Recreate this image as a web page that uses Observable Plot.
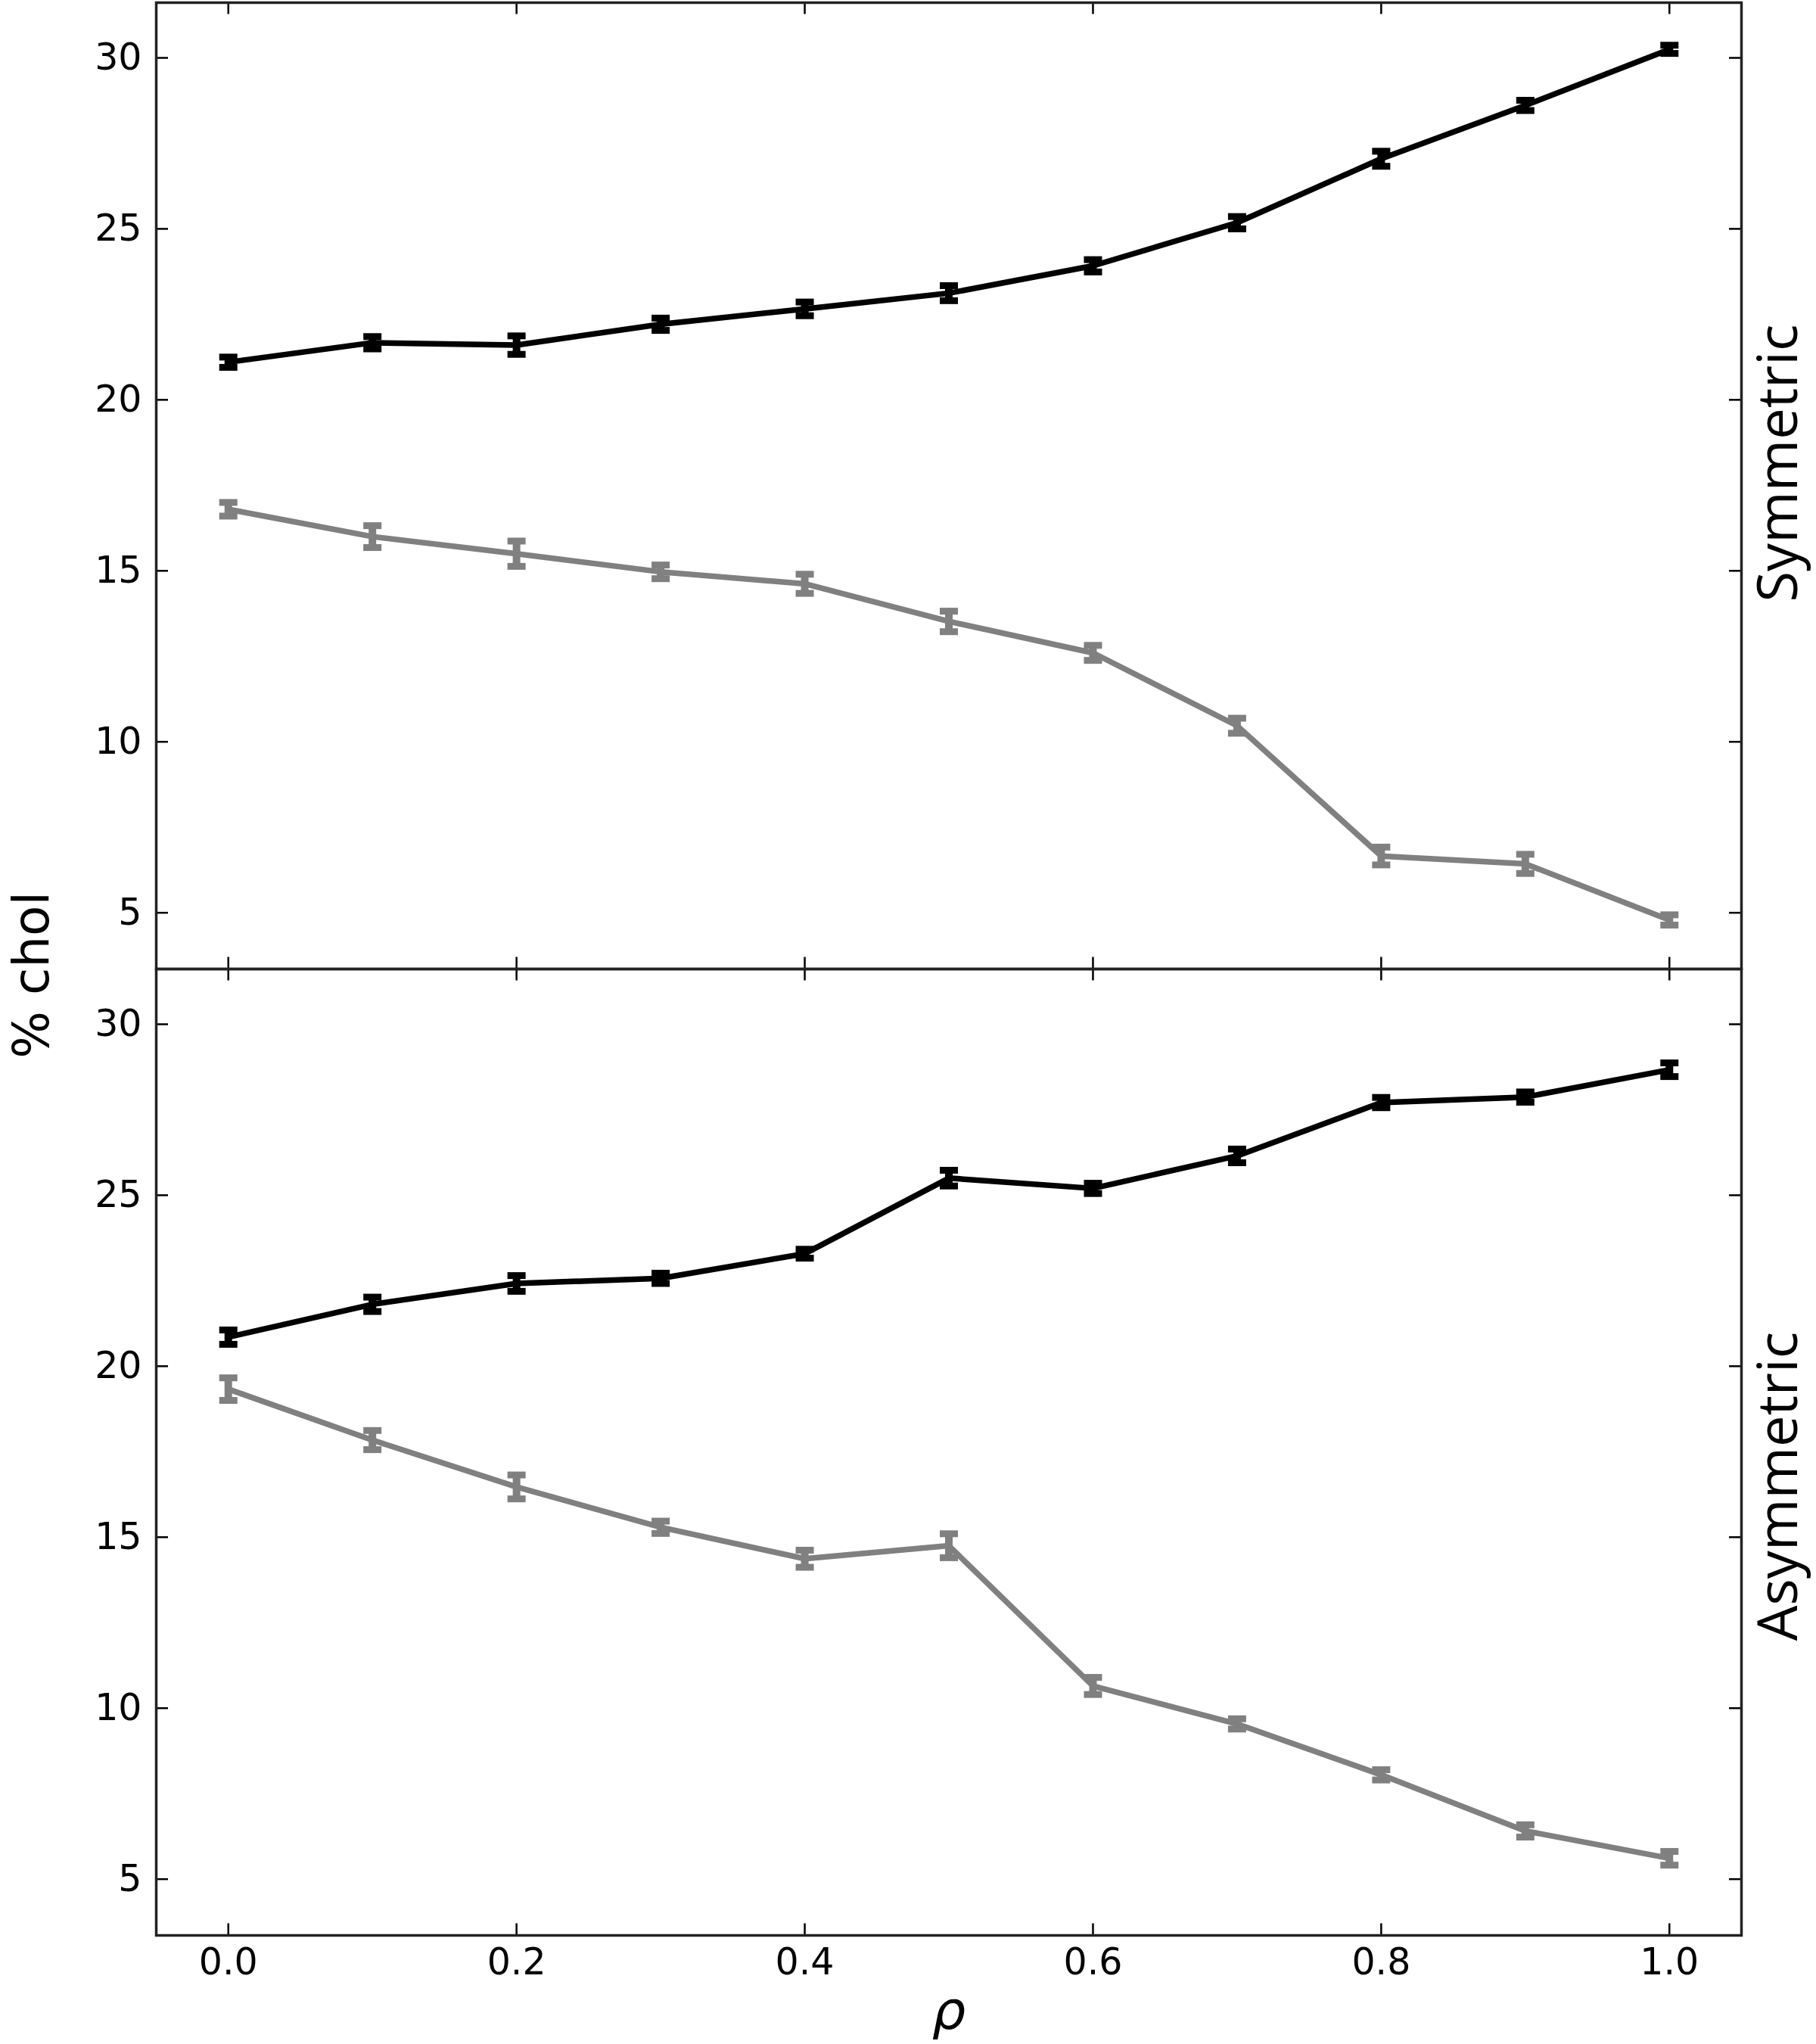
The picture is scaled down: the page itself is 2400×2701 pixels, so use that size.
<!DOCTYPE html>
<html>
<head>
<meta charset="utf-8">
<script src="https://cdn.jsdelivr.net/npm/d3@7"></script>
<script src="https://cdn.jsdelivr.net/npm/@observablehq/plot@0.6"></script>
<style>
  html, body { margin: 0; padding: 0; background: #fff; }
  #chart svg { display: block; }
</style>
</head>
<body>
<div id="chart"></div>
<script>
// ---- data ----
const rho = [0.0, 0.1, 0.2, 0.3, 0.4, 0.5, 0.6, 0.7, 0.8, 0.9, 1.0];

const symBlack      = [21.10, 21.67, 21.60, 22.21, 22.66, 23.12, 23.92, 25.18, 27.05, 28.61, 30.25];
const symBlackErr   = [0.15, 0.18, 0.27, 0.18, 0.20, 0.22, 0.18, 0.18, 0.22, 0.15, 0.12];
const symGray       = [16.80, 16.00, 15.50, 14.97, 14.62, 13.52, 12.60, 10.47, 6.66, 6.43, 4.79];
const symGrayErr    = [0.20, 0.32, 0.37, 0.20, 0.28, 0.30, 0.22, 0.22, 0.26, 0.28, 0.15];

const asymBlack     = [20.85, 21.81, 22.42, 22.57, 23.29, 25.50, 25.20, 26.15, 27.71, 27.87, 28.67];
const asymBlackErr  = [0.21, 0.21, 0.23, 0.15, 0.13, 0.23, 0.15, 0.20, 0.15, 0.15, 0.20];
const asymGray      = [19.33, 17.84, 16.47, 15.29, 14.37, 14.75, 10.65, 9.54, 8.05, 6.41, 5.61];
const asymGrayErr   = [0.33, 0.28, 0.35, 0.18, 0.25, 0.35, 0.25, 0.15, 0.15, 0.18, 0.20];

const panels = ["Symmetric", "Asymmetric"];
const seriesNames = ["Series 1", "Series 2"];
const yTicks = [5, 10, 15, 20, 25, 30];
const xTicks = [0.0, 0.2, 0.4, 0.6, 0.8, 1.0];
const xTickLabels = ["0.0", "0.2", "0.4", "0.6", "0.8", "1.0"];
const yLabel = "% chol";
const xLabel = "ρ";

// ---- table built from the arrays ----
const table = [];
function addSeries(panel, series, vals, errs) {
  rho.forEach((r, i) => table.push({panel, series, rho: r, v: vals[i], lo: vals[i] - errs[i], hi: vals[i] + errs[i]}));
}
addSeries(panels[0], seriesNames[1], symGray, symGrayErr);
addSeries(panels[0], seriesNames[0], symBlack, symBlackErr);
addSeries(panels[1], seriesNames[1], asymGray, asymGrayErr);
addSeries(panels[1], seriesNames[0], asymBlack, asymBlackErr);

// ---- layout ----
const W = 2400, H = 2701;
const mL = 206, mR = 99, mT = 2, mB = 144;
const plotW = W - mL - mR;
const panelH = (H - mT - mB) / 2;
const tickLen = 16;

const cap = { draw(ctx) { ctx.rect(-12, -4.5, 24, 9); } };

const chart = Plot.plot({
  width: W,
  height: H,
  marginLeft: mL,
  marginRight: mR,
  marginTop: mT,
  marginBottom: mB,
  style: { fontFamily: "DejaVu Sans", background: "#fff", color: "#000" },
  x: { domain: [-0.05, 1.05] },
  y: { domain: [3.355, 31.615] },
  fy: { domain: panels, padding: 0, axis: null },
  color: { domain: seriesNames, range: ["#000000", "#808080"], legend: false },
  marks: [
    // inward ticks on all four sides of each panel
    Plot.ruleY(yTicks, { y: d => d, insetRight: plotW - tickLen, stroke: "#000", strokeWidth: 2.5 }),
    Plot.ruleY(yTicks, { y: d => d, insetLeft: plotW - tickLen, stroke: "#000", strokeWidth: 2.5 }),
    Plot.ruleX(xTicks, { x: d => d, insetBottom: panelH - tickLen, stroke: "#000", strokeWidth: 2.5 }),
    Plot.ruleX(xTicks, { x: d => d, insetTop: panelH - tickLen, stroke: "#000", strokeWidth: 2.5 }),
    // tick labels
    Plot.axisY({ ticks: yTicks, tickSize: 0, tickPadding: 19, fontSize: 49, label: null, tickFormat: d => String(d) }),
    Plot.axisX({ ticks: xTicks, tickSize: 0, tickPadding: 17, fontSize: 49, label: null,
                 tickFormat: d => xTickLabels[xTicks.findIndex(t => Math.abs(t - d) < 1e-9)] }),
    // frame
    Plot.frame({ stroke: "#222", strokeWidth: 3.5 }),
    // lines
    Plot.line(table, { x: "rho", y: "v", z: "series", stroke: "series", fy: "panel", strokeWidth: 7.5, strokeLinejoin: "round" }),
    // error bars
    Plot.ruleX(table, { x: "rho", y1: "lo", y2: "hi", stroke: "series", fy: "panel", strokeWidth: 10 }),
    Plot.dot(table, { x: "rho", y: "hi", fill: "series", symbol: cap, fy: "panel" }),
    Plot.dot(table, { x: "rho", y: "lo", fill: "series", symbol: cap, fy: "panel" }),
    // panel labels on the right
    Plot.text([panels[0]], { fy: d => d, text: d => d, frameAnchor: "right", textAnchor: "middle", lineAnchor: "middle",
                             rotate: -90, dx: 50, dy: -30, fontSize: 74, fontFamily: "Open Sans", fill: "#000" }),
    Plot.text([panels[1]], { fy: d => d, text: d => d, frameAnchor: "right", textAnchor: "middle", lineAnchor: "middle",
                             rotate: -90, dx: 50, dy: 45, fontSize: 74, fontFamily: "Open Sans", fill: "#000" }),
    // axis titles
    Plot.text([yLabel], { fy: () => panels[0], text: d => d, frameAnchor: "bottom-left", textAnchor: "middle", lineAnchor: "middle",
                          rotate: -90, dx: -164, dy: 8, fontSize: 66, fill: "#000" }),
    Plot.text([xLabel], { fy: () => panels[1], text: d => d, frameAnchor: "bottom", textAnchor: "middle", lineAnchor: "top",
                          dy: 74, fontSize: 70, fontStyle: "italic", fill: "#000" })
  ]
});

document.getElementById("chart").appendChild(chart);
</script>
</body>
</html>
